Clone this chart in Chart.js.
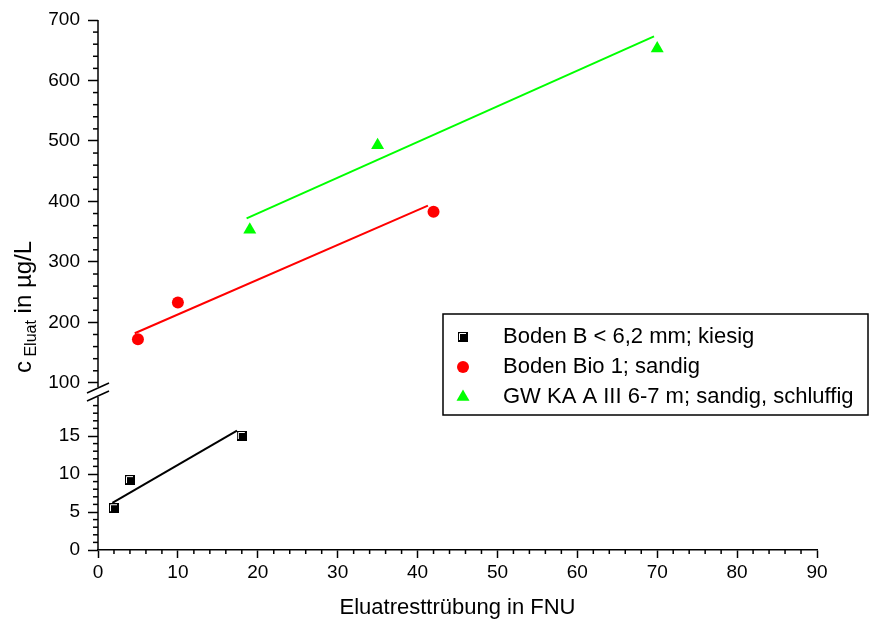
<!DOCTYPE html>
<html>
<head>
<meta charset="utf-8">
<script src="https://cdn.jsdelivr.net/npm/chart.js@4"></script>
<style>
html,body{margin:0;padding:0;background:#fff;}
canvas{display:block;}
</style>
</head>
<body>
<canvas id="c" width="869" height="630"></canvas>
<script>
// Measured samples: residual turbidity of the eluate (FNU) vs. concentration (µg/L)
const bodenBX = [2, 4, 18];
const bodenBY = [5.5, 9.2, 15.0];
const bio1X = [5, 10, 42];
const bio1Y = [172, 233, 383];
const gwX = [19, 35, 70];
const gwY = [353, 493, 653];

// Fitted straight lines (start and end point of each)
const bodenBFitX = [1.8, 17.4];
const bodenBFitY = [6.2, 15.7];
const bio1FitX = [4.6, 41.3];
const bio1FitY = [182, 393];
const gwFitX = [18.6, 69.6];
const gwFitY = [372, 673];

const seriesLabels = [
  'Boden B < 6,2 mm; kiesig',
  'Boden Bio 1; sandig',
  'GW KA A III 6-7 m; sandig, schluffig'
];

const xTickLabels = ['0', '10', '20', '30', '40', '50', '60', '70', '80', '90'];
const yLowTickLabels = ['0', '5', '10', '15'];
const yHighTickLabels = ['100', '200', '300', '400', '500', '600', '700'];

const xTitle = 'Eluatresttrübung in FNU';
const yTitleParts = ['c', ' Eluat', ' in µg/L'];

const FONT = '"Liberation Sans", Arial, sans-serif';
const RED = '#ff0000';
const GREEN = '#00ff00';

function toPoints(xs, ys) {
  return xs.map((x, i) => ({ x: x, y: ys[i] }));
}

// small black square marker with a light bevel on the upper left
function makeSquareIcon() {
  const c = document.createElement('canvas');
  c.width = 10; c.height = 10;
  const g = c.getContext('2d');
  g.fillStyle = '#000';
  g.fillRect(0, 0, 10, 10);
  g.strokeStyle = '#fff';
  g.lineWidth = 1;
  g.beginPath();
  g.moveTo(1.5, 8);
  g.lineTo(1.5, 1.5);
  g.lineTo(8, 1.5);
  g.stroke();
  return c;
}
const squareIcon = makeSquareIcon();

function labelTicks(labels) {
  return function (scale) {
    scale.ticks = labels.map(l => ({ value: Number(l) }));
  };
}
function labelFor(labels) {
  return function (value) {
    const s = labels.find(l => Number(l) === value);
    return s === undefined ? '' : s;
  };
}

const tickFont = { family: FONT, size: 19 };

function line(ctx, x1, y1, x2, y2) {
  ctx.beginPath();
  ctx.moveTo(x1, y1);
  ctx.lineTo(x2, y2);
  ctx.stroke();
}

// y axis line with break marks and the minor ticks of all axes
const axisPlugin = {
  id: 'brokenAxis',
  afterDraw(chart) {
    const { ctx, chartArea, scales } = chart;
    const xs = scales.x, lo = scales.yLow, hi = scales.yHigh;
    const ax = chartArea.left;
    const b = lo.top;
    ctx.save();
    ctx.strokeStyle = '#000';
    ctx.lineWidth = 1.5;
    line(ctx, ax, chartArea.top, ax, b - 11);
    line(ctx, ax, b - 1, ax, lo.bottom);
    [b - 10, b - 2].forEach(cy => line(ctx, ax - 11, cy + 5, ax + 11, cy - 5));

    for (let v = 2; v < 90; v += 2) {
      if (v % 10 === 0) continue;
      const px = xs.getPixelForValue(v);
      line(ctx, px, chartArea.bottom, px, chartArea.bottom + 4);
    }
    for (let v = 1; v < 20; v++) {
      if (v % 5 === 0) continue;
      const py = lo.getPixelForValue(v);
      line(ctx, ax - 5, py, ax, py);
    }
    for (let v = 120; v < 700; v += 20) {
      if (v % 100 === 0) continue;
      const py = hi.getPixelForValue(v);
      line(ctx, ax - 5, py, ax, py);
    }
    ctx.restore();
  }
};

// rotated y axis title with subscript
const yTitlePlugin = {
  id: 'yTitle',
  afterDraw(chart) {
    const ctx = chart.ctx;
    ctx.save();
    ctx.translate(31, 373);
    ctx.rotate(-Math.PI / 2);
    ctx.fillStyle = '#000';
    ctx.textAlign = 'left';
    ctx.textBaseline = 'alphabetic';
    let x = 0;
    ctx.font = '24px ' + FONT;
    ctx.fillText(yTitleParts[0], x, 0);
    x += ctx.measureText(yTitleParts[0]).width;
    ctx.font = '16px ' + FONT;
    ctx.fillText(yTitleParts[1], x, 5);
    x += ctx.measureText(yTitleParts[1]).width;
    ctx.font = '24px ' + FONT;
    ctx.fillText(yTitleParts[2], x, 0);
    ctx.restore();
  }
};

// framed legend inside the plot
const legendPlugin = {
  id: 'boxLegend',
  afterDraw(chart) {
    const ctx = chart.ctx;
    const left = 443, top = 314, right = 868, bottom = 415;
    ctx.save();
    ctx.strokeStyle = '#000';
    ctx.lineWidth = 1.5;
    ctx.strokeRect(left, top, right - left, bottom - top);
    const rows = [337, 367, 397];
    const mx = 463;
    ctx.drawImage(squareIcon, mx - 5, rows[0] - 5);
    ctx.fillStyle = RED;
    ctx.beginPath();
    ctx.arc(mx, rows[1], 6, 0, Math.PI * 2);
    ctx.fill();
    ctx.fillStyle = GREEN;
    const r = 7.5;
    ctx.beginPath();
    ctx.moveTo(mx, rows[2] - r);
    ctx.lineTo(mx + r * Math.sqrt(3) / 2, rows[2] + r / 2);
    ctx.lineTo(mx - r * Math.sqrt(3) / 2, rows[2] + r / 2);
    ctx.closePath();
    ctx.fill();

    ctx.fillStyle = '#000';
    ctx.font = '22px ' + FONT;
    ctx.textAlign = 'left';
    ctx.textBaseline = 'middle';
    seriesLabels.forEach((t, i) => ctx.fillText(t, 503, rows[i]));
    ctx.restore();
  }
};

const fitStyle = { type: 'line', pointRadius: 0, borderWidth: 2, fill: false, tension: 0 };

new Chart(document.getElementById('c'), {
  type: 'scatter',
  data: {
    datasets: [
      Object.assign({}, fitStyle, { label: 'fit1', data: toPoints(bodenBFitX, bodenBFitY), yAxisID: 'yLow', borderColor: '#000' }),
      Object.assign({}, fitStyle, { label: 'fit2', data: toPoints(bio1FitX, bio1FitY), yAxisID: 'yHigh', borderColor: RED }),
      Object.assign({}, fitStyle, { label: 'fit3', data: toPoints(gwFitX, gwFitY), yAxisID: 'yHigh', borderColor: GREEN }),
      { label: seriesLabels[0], data: toPoints(bodenBX, bodenBY), yAxisID: 'yLow',
        pointStyle: squareIcon, pointRadius: 5, backgroundColor: '#000', borderWidth: 0 },
      { label: seriesLabels[1], data: toPoints(bio1X, bio1Y), yAxisID: 'yHigh',
        pointStyle: 'circle', pointRadius: 6, backgroundColor: RED, borderColor: RED, borderWidth: 0 },
      { label: seriesLabels[2], data: toPoints(gwX, gwY), yAxisID: 'yHigh',
        pointStyle: 'triangle', pointRadius: 7.5, backgroundColor: GREEN, borderColor: GREEN, borderWidth: 0 }
    ]
  },
  options: {
    responsive: false,
    animation: false,
    devicePixelRatio: 1,
    layout: { padding: { top: 20, right: 52, bottom: 0, left: 0 } },
    plugins: { legend: { display: false }, tooltip: { enabled: false } },
    scales: {
      x: {
        type: 'linear', position: 'bottom', min: 0, max: 90,
        afterBuildTicks: labelTicks(xTickLabels),
        afterFit: s => { s.height = 80; },
        ticks: { callback: labelFor(xTickLabels), font: tickFont, color: '#000', padding: 3, autoSkip: false, maxRotation: 0 },
        grid: { drawOnChartArea: false, tickLength: 8, tickWidth: 1.5, tickColor: '#000' },
        border: { display: true, color: '#000', width: 1.5 },
        title: { display: true, text: xTitle, color: '#000', font: { family: FONT, size: 22 }, padding: { top: 0, bottom: 9 } }
      },
      yHigh: {
        type: 'linear', position: 'left', stack: 'y', stackWeight: 378, weight: 2,
        min: 75, max: 700,
        afterBuildTicks: labelTicks(yHighTickLabels),
        afterFit: s => { s.width = 98; },
        ticks: { callback: labelFor(yHighTickLabels), font: tickFont, color: '#000', padding: 8, autoSkip: false },
        grid: { drawOnChartArea: false, tickLength: 10, tickWidth: 1.5, tickColor: '#000' },
        border: { display: false }
      },
      yLow: {
        type: 'linear', position: 'left', stack: 'y', stackWeight: 152, weight: 1,
        min: 0, max: 20,
        afterBuildTicks: labelTicks(yLowTickLabels),
        afterFit: s => { s.width = 98; },
        ticks: { callback: labelFor(yLowTickLabels), font: tickFont, color: '#000', padding: 8, autoSkip: false },
        grid: { drawOnChartArea: false, tickLength: 10, tickWidth: 1.5, tickColor: '#000' },
        border: { display: false }
      }
    }
  },
  plugins: [axisPlugin, yTitlePlugin, legendPlugin]
});
</script>
</body>
</html>
